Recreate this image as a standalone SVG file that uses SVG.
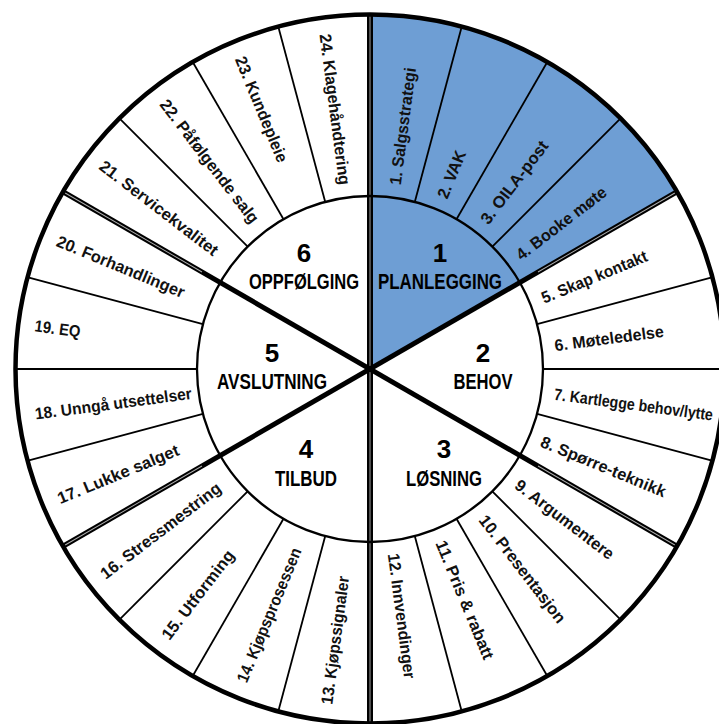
<svg xmlns="http://www.w3.org/2000/svg" width="719" height="724" viewBox="0 0 719 724">
<style>
.seg{font-family:"Liberation Sans",Arial,sans-serif;font-weight:bold;font-size:16.5px;fill:#111;}
.num{font-family:"Liberation Sans",Arial,sans-serif;font-weight:bold;font-size:26px;fill:#000;text-anchor:middle;}
.name{font-family:"Liberation Sans",Arial,sans-serif;font-weight:bold;font-size:22px;fill:#000;text-anchor:middle;}
.thin{stroke:#000;stroke-width:1.8;fill:none;}
.thick{stroke:#000;stroke-width:5;fill:none;}
.mid{stroke:#b0b0b0;stroke-width:0.9;fill:none;}
</style>
<rect width="719" height="724" fill="#fff"/>
<g id="highlight">
<path d="M370,369 L370,14.5 A354.5,354.5 0 0 1 677.01,191.75 Z" fill="#6e9ed4"/>
</g>
<g id="connectors">
<line class="thin" x1="370" y1="196" x2="370" y2="15" transform="rotate(15 370 369)"/>
<line class="thin" x1="370" y1="196" x2="370" y2="15" transform="rotate(30 370 369)"/>
<line class="thin" x1="370" y1="196" x2="370" y2="15" transform="rotate(45 370 369)"/>
<line class="thin" x1="370" y1="196" x2="370" y2="15" transform="rotate(75 370 369)"/>
<line class="thin" x1="370" y1="196" x2="370" y2="15" transform="rotate(90 370 369)"/>
<line class="thin" x1="370" y1="196" x2="370" y2="15" transform="rotate(105 370 369)"/>
<line class="thin" x1="370" y1="196" x2="370" y2="15" transform="rotate(135 370 369)"/>
<line class="thin" x1="370" y1="196" x2="370" y2="15" transform="rotate(150 370 369)"/>
<line class="thin" x1="370" y1="196" x2="370" y2="15" transform="rotate(165 370 369)"/>
<line class="thin" x1="370" y1="196" x2="370" y2="15" transform="rotate(195 370 369)"/>
<line class="thin" x1="370" y1="196" x2="370" y2="15" transform="rotate(210 370 369)"/>
<line class="thin" x1="370" y1="196" x2="370" y2="15" transform="rotate(225 370 369)"/>
<line class="thin" x1="370" y1="196" x2="370" y2="15" transform="rotate(255 370 369)"/>
<line class="thin" x1="370" y1="196" x2="370" y2="15" transform="rotate(270 370 369)"/>
<line class="thin" x1="370" y1="196" x2="370" y2="15" transform="rotate(285 370 369)"/>
<line class="thin" x1="370" y1="196" x2="370" y2="15" transform="rotate(315 370 369)"/>
<line class="thin" x1="370" y1="196" x2="370" y2="15" transform="rotate(330 370 369)"/>
<line class="thin" x1="370" y1="196" x2="370" y2="15" transform="rotate(345 370 369)"/>
<line class="thick" x1="370" y1="15" x2="370" y2="723" style="stroke-width:6"/>
<line class="mid" x1="370" y1="15" x2="370" y2="723"/>
<line class="thick" x1="370" y1="15" x2="370" y2="723" transform="rotate(60 370 369)"/>
<line class="thick" x1="370" y1="15" x2="370" y2="723" transform="rotate(120 370 369)"/>
<line class="mid" x1="370" y1="17" x2="370" y2="175" transform="rotate(60 370 369)"/>
<line class="mid" x1="370" y1="17" x2="370" y2="175" transform="rotate(120 370 369)"/>
<line class="mid" x1="370" y1="17" x2="370" y2="175" transform="rotate(240 370 369)"/>
<line class="mid" x1="370" y1="17" x2="370" y2="175" transform="rotate(300 370 369)"/>
<circle cx="370" cy="369" r="173" fill="none" stroke="#000" stroke-width="2.3"/>
<circle cx="370" cy="369" r="354.5" fill="none" stroke="#000" stroke-width="4.5"/>
</g>
<g id="sector1"><text class="num" x="440" y="262">1</text><text class="name" x="440" y="289" textLength="124" lengthAdjust="spacingAndGlyphs">PLANLEGGING</text></g>
<g id="sector2"><text class="num" x="483" y="362">2</text><text class="name" x="483" y="389" textLength="59" lengthAdjust="spacingAndGlyphs">BEHOV</text></g>
<g id="sector3"><text class="num" x="444" y="458">3</text><text class="name" x="444" y="486" textLength="76" lengthAdjust="spacingAndGlyphs">LØSNING</text></g>
<g id="sector4"><text class="num" x="306" y="458">4</text><text class="name" x="306" y="486" textLength="62" lengthAdjust="spacingAndGlyphs">TILBUD</text></g>
<g id="sector5"><text class="num" x="272" y="362">5</text><text class="name" x="272" y="389" textLength="110" lengthAdjust="spacingAndGlyphs">AVSLUTNING</text></g>
<g id="sector6"><text class="num" x="304" y="262">6</text><text class="name" x="304" y="289" textLength="110" lengthAdjust="spacingAndGlyphs">OPPFØLGING</text></g>
<g id="seg1"><text class="seg" x="556" y="375.5" transform="rotate(-82.5 370 369)" textLength="118" lengthAdjust="spacingAndGlyphs">1. Salgsstrategi</text></g>
<g id="seg2"><text class="seg" x="556" y="375.5" transform="rotate(-67.5 370 369)" textLength="50" lengthAdjust="spacingAndGlyphs">2. VAK</text></g>
<g id="seg3"><text class="seg" x="556" y="375.5" transform="rotate(-52.5 370 369)" textLength="100" lengthAdjust="spacingAndGlyphs">3. OILA-post</text></g>
<g id="seg4"><text class="seg" x="556" y="375.5" transform="rotate(-37.5 370 369)" textLength="109" lengthAdjust="spacingAndGlyphs">4. Booke møte</text></g>
<g id="seg5"><text class="seg" x="556" y="375.5" transform="rotate(-22.5 370 369)" textLength="113" lengthAdjust="spacingAndGlyphs">5. Skap kontakt</text></g>
<g id="seg6"><text class="seg" x="556" y="375.5" transform="rotate(-7.5 370 369)" textLength="110" lengthAdjust="spacingAndGlyphs">6. Møteledelse</text></g>
<g id="seg7"><text class="seg" x="556" y="375.5" transform="rotate(7.5 370 369)" textLength="160" lengthAdjust="spacingAndGlyphs">7. Kartlegge behov/lytte</text></g>
<g id="seg8"><text class="seg" x="556" y="375.5" transform="rotate(22.5 370 369)" textLength="134" lengthAdjust="spacingAndGlyphs">8. Spørre-teknikk</text></g>
<g id="seg9"><text class="seg" x="556" y="375.5" transform="rotate(37.5 370 369)" textLength="120" lengthAdjust="spacingAndGlyphs">9. Argumentere</text></g>
<g id="seg10"><text class="seg" x="556" y="375.5" transform="rotate(52.5 370 369)" textLength="131" lengthAdjust="spacingAndGlyphs">10. Presentasjon</text></g>
<g id="seg11"><text class="seg" x="556" y="375.5" transform="rotate(67.5 370 369)" textLength="127" lengthAdjust="spacingAndGlyphs">11. Pris &amp; rabatt</text></g>
<g id="seg12"><text class="seg" x="556" y="375.5" transform="rotate(82.5 370 369)" textLength="126" lengthAdjust="spacingAndGlyphs">12. Innvendinger</text></g>
<g id="seg13"><text class="seg" x="32" y="375.5" transform="rotate(277.5 370 369)" textLength="129" lengthAdjust="spacingAndGlyphs">13. Kjøpssignaler</text></g>
<g id="seg14"><text class="seg" x="32" y="375.5" transform="rotate(292.5 370 369)" textLength="144" lengthAdjust="spacingAndGlyphs">14. Kjøpsprosessen</text></g>
<g id="seg15"><text class="seg" x="32" y="375.5" transform="rotate(307.5 370 369)" textLength="108" lengthAdjust="spacingAndGlyphs">15. Utforming</text></g>
<g id="seg16"><text class="seg" x="32" y="375.5" transform="rotate(322.5 370 369)" textLength="147" lengthAdjust="spacingAndGlyphs">16. Stressmestring</text></g>
<g id="seg17"><text class="seg" x="32" y="375.5" transform="rotate(337.5 370 369)" textLength="130" lengthAdjust="spacingAndGlyphs">17. Lukke salget</text></g>
<g id="seg18"><text class="seg" x="32" y="375.5" transform="rotate(352.5 370 369)" textLength="158" lengthAdjust="spacingAndGlyphs">18. Unngå utsettelser</text></g>
<g id="seg19"><text class="seg" x="32" y="375.5" transform="rotate(7.5 370 369)" textLength="46" lengthAdjust="spacingAndGlyphs">19. EQ</text></g>
<g id="seg20"><text class="seg" x="32" y="375.5" transform="rotate(22.5 370 369)" textLength="137" lengthAdjust="spacingAndGlyphs">20. Forhandlinger</text></g>
<g id="seg21"><text class="seg" x="32" y="375.5" transform="rotate(37.5 370 369)" textLength="145" lengthAdjust="spacingAndGlyphs">21. Servicekvalitet</text></g>
<g id="seg22"><text class="seg" x="32" y="375.5" transform="rotate(52.5 370 369)" textLength="151" lengthAdjust="spacingAndGlyphs">22. Påfølgende salg</text></g>
<g id="seg23"><text class="seg" x="32" y="375.5" transform="rotate(67.5 370 369)" textLength="113" lengthAdjust="spacingAndGlyphs">23. Kundepleie</text></g>
<g id="seg24"><text class="seg" x="32" y="375.5" transform="rotate(82.5 370 369)" textLength="152" lengthAdjust="spacingAndGlyphs">24. Klagehåndtering</text></g>
</svg>
